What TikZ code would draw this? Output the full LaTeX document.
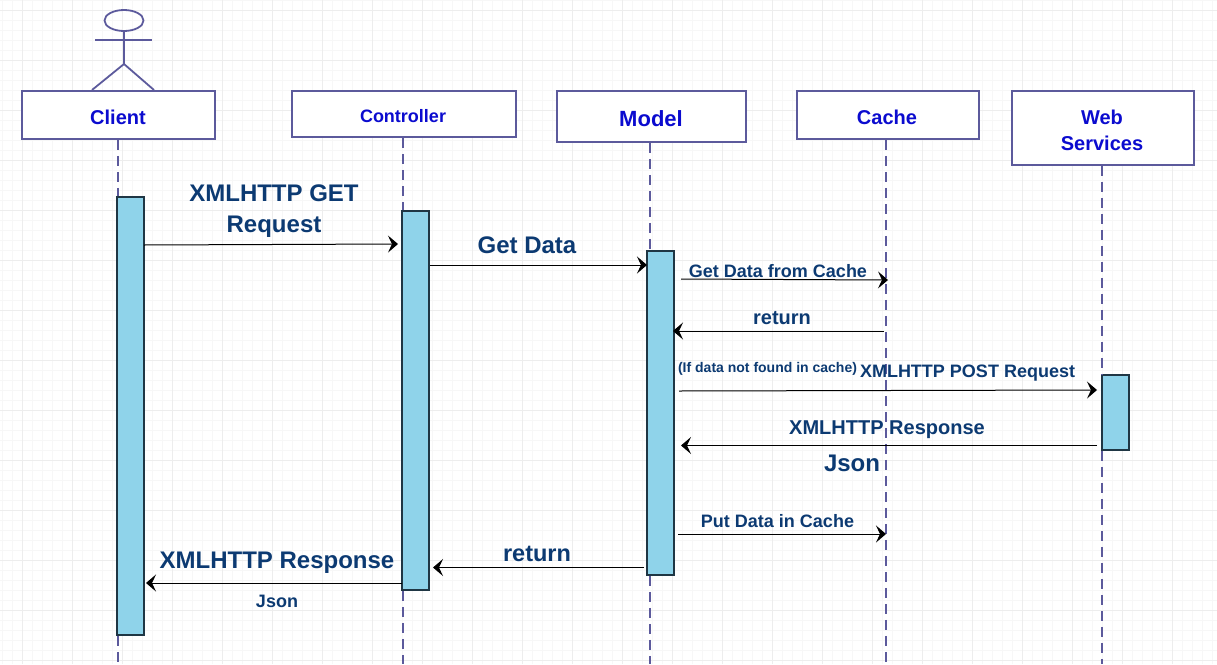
\documentclass[tikz,border=0pt]{standalone}
\usepackage{fontspec}
\setmainfont{Liberation Sans}
\usetikzlibrary{arrows.meta,shapes.geometric}
\definecolor{purpleline}{HTML}{5C5A9C}
\definecolor{barfill}{HTML}{8FD3EA}
\definecolor{barline}{HTML}{1F3644}
\definecolor{msgtext}{HTML}{0C3A72}
\definecolor{boxtext}{HTML}{0B0BCF}
\tikzset{
    msg/.style={draw=black,line width=1pt,-{Stealth[length=10pt,width=17pt,inset=4pt]}},
    lifeline/.style={draw=purpleline,line width=1.8pt,dash pattern=on 10pt off 6pt},
    actorline/.style={draw=purpleline,line width=1.8pt},
    box/.style={draw=purpleline,line width=1.8pt,fill=white,inner sep=0pt},
    bar/.style={draw=barline,line width=1.8pt,fill=barfill,inner sep=0pt,minimum width=27pt},
    lbl/.style={text=msgtext,anchor=base,inner sep=0pt,font=\bfseries\fontsize{#1}{#1}\selectfont},
    boxlbl/.style={text=boxtext,anchor=base,inner sep=0pt,font=\bfseries\fontsize{#1}{#1}\selectfont},
}
\begin{document}
\begin{tikzpicture}[x=1pt,y=-1pt]
    \useasboundingbox (0,0) rectangle (1217,664);
    %% grid
    \foreach \i in {2,12,...,1212} \draw[line width=0.6pt,black!3] (\i,0) -- (\i,664);
    \foreach \j in {0,10,...,660} \draw[line width=0.6pt,black!3] (0,\j) -- (1217,\j);
    \foreach \i in {22,72,...,1172} \draw[line width=0.7pt,black!7] (\i,0) -- (\i,664);
    \foreach \j in {10,60,...,660} \draw[line width=0.7pt,black!7] (0,\j) -- (1217,\j);
    %% boxes
    \node[box,minimum width=193pt,minimum height=48pt] (client) at (118.5,115) {};
    \node[box,minimum width=224pt,minimum height=46pt] (controller) at (404,114) {};
    \node[box,minimum width=189pt,minimum height=51pt] (model) at (651.5,116.5) {};
    \node[box,minimum width=182pt,minimum height=48pt] (cache) at (888,115) {};
    \node[box,minimum width=182pt,minimum height=74pt] (webservices) at (1103,128) {};
    \node[boxlbl=20] (clienttxt) at (118,124) {Client};
    \node[boxlbl=18] (controllertxt) at (403,122) {Controller};
    \node[boxlbl=22] (modeltxt) at (651,126) {Model};
    \node[boxlbl=20] (cachetxt) at (887,124) {Cache};
    \node[boxlbl=20] (webtxt) at (1102,124) {Web};
    \node[boxlbl=20] (servicestxt) at (1102,150) {Services};
    %% actor
    \node[actorline,draw,ellipse,minimum width=39pt,minimum height=21pt,inner sep=0pt] (head) at (124,20.5) {};
    \coordinate (hip) at (124,64);
    \coordinate (armleft) at (95,40);
    \coordinate (armright) at (152,40);
    \coordinate (legleft) at (92,90);
    \coordinate (legright) at (154,90);
    \draw[actorline] (head.south) -- (hip);
    \draw[actorline] (armleft) -- (armright);
    \draw[actorline] (legleft) -- (hip) -- (legright);
    %% bottom ends of the lifelines
    \coordinate (clientend) at (118,664);
    \coordinate (controllerend) at (403,664);
    \coordinate (modelend) at (650,664);
    \coordinate (cacheend) at (886,664);
    \coordinate (webend) at (1102,664);
    %% activation bars
    \node[bar,minimum height=438pt] (clientbar) at (130.5,416) {};
    \node[bar,minimum height=379pt] (controllerbar) at (415.5,400.5) {};
    \node[bar,minimum height=324pt] (modelbar) at (660.5,413) {};
    \node[bar,minimum height=75pt] (webbar) at (1115.5,412.5) {};
    %% lifelines
    \draw[lifeline] (client.south -| clientend) -- (clientbar.north -| clientend);
    \draw[lifeline] (clientbar.south -| clientend) -- (clientend);
    \draw[lifeline] (controller.south -| controllerend) -- (controllerbar.north -| controllerend);
    \draw[lifeline] (controllerbar.south -| controllerend) -- (controllerend);
    \draw[lifeline] (model.south -| modelend) -- (modelbar.north -| modelend);
    \draw[lifeline] (modelbar.south -| modelend) -- (modelend);
    \draw[lifeline] (cache.south -| cacheend) -- (cacheend);
    \draw[lifeline] (webservices.south -| webend) -- (webbar.north -| webend);
    \draw[lifeline] (webbar.south -| webend) -- (webend);
    %% message ends
    \coordinate (getstart) at (144,245);
    \coordinate (getend) at (398,244);
    \coordinate (datastart) at (430,265);
    \coordinate (dataend) at (647,265);
    \coordinate (cachestart) at (681,279);
    \coordinate (cacheget) at (888,280);
    \coordinate (retstart) at (884,331);
    \coordinate (retend) at (673,331);
    \coordinate (poststart) at (679,391);
    \coordinate (postend) at (1097,390);
    \coordinate (respstart) at (1097,445.5);
    \coordinate (respend) at (681,445.5);
    \coordinate (putstart) at (678,534);
    \coordinate (putend) at (886,534);
    \coordinate (backstart) at (644,567.5);
    \coordinate (backend) at (433,567.5);
    \coordinate (finalstart) at (402,583);
    \coordinate (finalend) at (146,583);
    %% messages
    \draw[msg] (getstart) -- (getend);
    \draw[msg] (datastart) -- (dataend);
    \draw[msg] (cachestart) -- (cacheget);
    \draw[msg] (retstart) -- (retend);
    \draw[msg] (poststart) -- (postend);
    \draw[msg] (respstart) -- (respend);
    \draw[msg] (putstart) -- (putend);
    \draw[msg] (backstart) -- (backend);
    \draw[msg] (finalstart) -- (finalend);
    %% message labels
    \node[lbl=24] (gettxt) at (274,201) {XMLHTTP GET};
    \node[lbl=24] (requesttxt) at (274,232) {Request};
    \node[lbl=24] (datatxt) at (527,253) {Get Data};
    \node[lbl=18] (cachetxtget) at (778,277) {Get Data from Cache};
    \node[lbl=20] (rettxt) at (782,324) {return};
    \node[lbl=14] (iftxt) at (767.5,372) {(If data not found in cache)};
    \node[lbl=18] (posttxt) at (967.5,377) {XMLHTTP POST Request};
    \node[lbl=20] (resptxt) at (887,434) {XMLHTTP Response};
    \node[lbl=24] (jsontxt) at (852,471) {Json};
    \node[lbl=18] (puttxt) at (777.5,527) {Put Data in Cache};
    \node[lbl=23.5] (backtxt) at (537,561) {return};
    \node[lbl=24] (finaltxt) at (277,568) {XMLHTTP Response};
    \node[lbl=18] (finaljson) at (277,607) {Json};
\end{tikzpicture}
\end{document}
